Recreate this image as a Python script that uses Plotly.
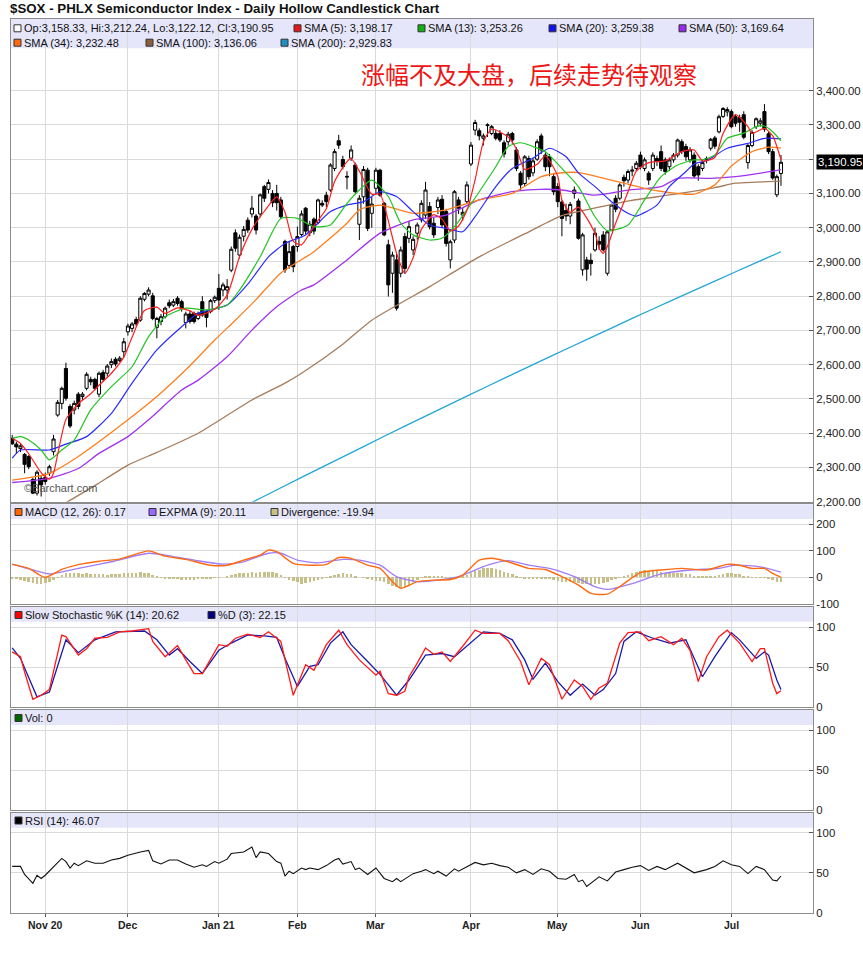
import plotly.graph_objects as go
import pandas as pd

# ---------------- calendar ----------------
holidays = {"2020-11-26", "2020-12-25", "2021-01-01", "2021-01-18",
            "2021-02-15", "2021-04-02", "2021-05-31", "2021-07-05"}
dates = [d for d in pd.bdate_range("2020-10-21", "2021-07-20")
         if d.strftime("%Y-%m-%d") not in holidays]
day = list(range(len(dates)))
month_labels = ["Nov 20", "Dec", "Jan 21", "Feb", "Mar", "Apr", "May", "Jun", "Jul"]
month_idx = []
_prev = None
for _i, _d in enumerate(dates):
    _k = (_d.year, _d.month)
    if _k != _prev:
        if _prev is not None:
            month_idx.append(_i)
        _prev = _k

# ---------------- OHLC ----------------
opens = [2385,2368,2355,2338,2332,2265,2225,2268,2271,2283,
         2346,2453,2487,2589,2478,2468,2514,2507,2531,2557,
         2557,2514,2577,2575,2600,2616,2612,2638,2696,2706,
         2732,2730,2791,2806,2801,2709,2726,2740,2781,2774,
         2794,2784,2723,2748,2750,2735,2784,2755,2755,2787,
         2823,2818,2818,2876,2985,2920,2975,3022,3040,3034,
         3040,3120,3112,3100,3100,3081,2960,2890,2945,2945,
         2980,3057,2985,3025,3015,3071,3095,3110,3173,3254,
         3199,3150,3203,3183,3010,3090,3168,3042,3115,3168,
         3071,2950,2867,2906,2867,2974,2969,2935,2984,3023,
         3037,3062,3013,3059,3083,3047,2906,2964,3081,3037,
         3076,3186,3285,3283,3261,3298,3275,3275,3275,3248,
         3251,3275,3227,3159,3129,3202,3160,3200,3268,3212,
         3207,3149,3120,3075,3050,3034,3100,3078,2877,2906,
         2905,2935,2960,2979,2867,2993,3086,3086,3147,3139,
         3165,3173,3212,3173,3159,3173,3202,3222,3198,3178,
         3198,3212,3251,3237,3198,3212,3178,3173,3196,3232,
         3262,3280,3325,3338,3339,3324,3322,3330,3190,3240,
         3295,3305,3339,3274,3222,3096,3158.33]
highs = [2395,2375,2368,2342,2336,2270,2292,2276,2285,2308,
         2395,2497,2536,2606,2485,2495,2520,2520,2578,2565,
         2562,2580,2585,2602,2618,2622,2625,2678,2720,2725,
         2740,2800,2812,2826,2810,2740,2748,2770,2790,2792,
         2800,2790,2755,2758,2755,2755,2800,2760,2792,2802,
         2865,2840,2850,2945,2995,2980,3005,3030,3093,3040,
         3100,3125,3141,3110,3125,3090,2965,2960,2950,3003,
         3050,3060,3020,3030,3085,3080,3105,3188,3230,3271,
         3210,3165,3240,3190,3095,3180,3175,3090,3175,3172,
         3075,2965,2930,2925,2945,2985,3020,2975,3015,3080,
         3134,3075,3030,3090,3095,3055,2965,3110,3090,3060,
         3135,3250,3315,3290,3275,3305,3300,3285,3285,3255,
         3280,3280,3235,3165,3212,3210,3205,3258,3275,3220,
         3215,3160,3130,3080,3070,3075,3120,3085,2985,2915,
         2925,3000,2975,2990,2992,3070,3095,3130,3155,3170,
         3180,3195,3222,3205,3165,3220,3210,3240,3205,3205,
         3218,3260,3258,3245,3235,3220,3185,3198,3208,3262,
         3268,3330,3352,3352,3345,3330,3330,3340,3245,3285,
         3322,3320,3361,3280,3230,3155,3212.24]
lows = [2366,2340,2345,2283,2295,2222,2218,2215,2250,2275,
        2335,2448,2470,2495,2415,2455,2470,2495,2525,2540,
        2525,2505,2550,2565,2590,2595,2608,2620,2685,2695,
        2712,2725,2785,2800,2730,2677,2715,2735,2765,2768,
        2772,2755,2706,2720,2720,2730,2740,2709,2750,2780,
        2760,2800,2790,2870,2930,2910,2960,2985,3030,2980,
        3030,3075,3100,3060,3050,3025,2868,2880,2870,2930,
        2975,2980,2975,2980,3010,3060,3060,3105,3165,3230,
        3170,3112,3195,3100,2964,3070,2990,3000,3100,3090,
        2975,2799,2810,2758,2855,2865,2955,2920,2965,3015,
        3025,2995,2970,3040,3000,2945,2881,2955,3040,3020,
        3070,3180,3270,3255,3240,3265,3270,3255,3250,3205,
        3240,3245,3165,3110,3120,3140,3150,3195,3215,3165,
        3150,3095,3060,2975,3020,3010,3085,2965,2860,2845,
        2860,2930,2935,2930,2860,2990,3045,3080,3120,3130,
        3150,3165,3170,3165,3125,3165,3180,3165,3155,3165,
        3190,3205,3215,3195,3190,3145,3137,3165,3188,3225,
        3230,3275,3320,3325,3290,3295,3280,3258,3172,3235,
        3288,3295,3280,3215,3140,3089,3122.12]
closes = [2369,2360,2363,2309,2302,2225,2286,2249,2259,2302,
          2383,2490,2531,2502,2421,2487,2478,2514,2572,2550,
          2531,2575,2557,2596,2609,2602,2619,2667,2713,2719,
          2719,2794,2808,2818,2735,2735,2740,2765,2772,2784,
          2779,2765,2748,2726,2726,2750,2745,2738,2787,2797,
          2789,2833,2828,2937,2940,2972,2995,2993,3057,2993,
          3096,3086,3132,3073,3073,3032,2877,2930,2886,2974,
          3040,2990,3010,2990,3081,3066,3076,3183,3222,3241,
          3178,3148,3227,3105,3086,3170,2998,3069,3168,3095,
          2979,2833,2920,2765,2935,2881,3003,2966,3008,3071,
          3110,3003,2979,3081,3008,2954,2959,3105,3057,3045,
          3125,3241,3307,3268,3268,3300,3295,3261,3256,3215,
          3273,3256,3173,3125,3207,3149,3195,3251,3227,3178,
          3178,3105,3076,3027,3034,3068,3110,2969,2979,2879,
          2895,2984,2952,2935,2988,3066,3054,3125,3137,3164,
          3168,3188,3178,3198,3139,3212,3193,3173,3164,3198,
          3212,3256,3222,3207,3227,3151,3154,3190,3202,3258,
          3238,3324,3348,3345,3295,3305,3308,3264,3240,3278,
          3318,3312,3288,3222,3145,3149,3190.95]

# ---------------- moving averages ----------------
sma5_day = [0,2,4,7,9,10,11,13,16,19,21,24,27,29,32,35,37,40,43,45,49,52,55,58,61,64,66,68,70,73,
            76,78,81,82,84,87,89,91,93,95,97,99,102,104,106,108,110,112,114,116,120,122,124,127,129,
            132,133,135,137,141,142,143,144,146,149,151,154,158,162,165,167,170,172,175,178,179,182,184,186]
sma5_val = [2385,2370,2340,2285,2266,2283,2338,2440,2486,2515,2540,2575,2622,2680,2758,2768,2750,2766,2757,2744,
            2762,2803,2915,2995,3048,3090,3045,2960,2950,3005,3055,3135,3193,3202,3165,3098,3098,3020,2925,2867,
            2912,2995,3038,3025,2990,3005,3050,3140,3250,3288,3265,3230,3170,3185,3210,3150,3081,3045,3060,2984,
            2940,2925,2945,3013,3105,3165,3190,3195,3222,3227,3195,3205,3275,3330,3295,3275,3290,3268,3198.17]
sma13_day = [0,2,4,7,9,12,15,19,24,29,33,37,42,47,52,55,60,65,69,73,77,81,84,87,91,94,97,101,104,107,
             110,113,117,120,123,126,129,133,137,141,144,149,153,157,161,165,167,170,173,177,180,182,184,186]
sma13_val = [2385,2390,2380,2351,2322,2351,2380,2468,2536,2594,2682,2740,2765,2760,2774,2818,2915,3027,3027,3003,
             3008,3071,3110,3139,3091,3013,2979,2964,2969,3003,3052,3105,3178,3237,3248,3237,3222,3173,3120,3032,
             2991,3008,3081,3149,3183,3198,3198,3212,3261,3276,3295,3297,3280,3253.26]
sma20_day = [0,2,9,13,18,24,29,35,41,45,52,57,62,66,71,77,81,85,89,93,97,101,105,109,112,117,121,126,130,134,
             137,141,145,149,151,156,159,163,165,168,173,178,182,186]
sma20_val = [2327,2351,2351,2368,2390,2458,2546,2643,2711,2750,2774,2835,2915,2954,2979,3047,3066,3076,3105,3091,
             3047,3008,2998,2988,3032,3120,3173,3203,3232,3207,3160,3120,3076,3042,3034,3066,3120,3164,3186,3196,
             3232,3246,3261,3259.38]
sma34_day = [0,9,16,28,35,42,49,54,59,65,73,81,84,89,97,105,113,121,128,132,137,145,153,161,165,170,174,179,183,186]
sma34_val = [2263,2283,2332,2439,2507,2585,2672,2730,2790,2868,2930,3013,3052,3066,3042,3052,3081,3100,3149,3159,
             3161,3139,3115,3100,3098,3125,3180,3222,3235,3232.48]
sma50_day = [0,9,16,21,28,33,41,45,52,58,64,70,73,81,89,97,105,113,121,128,133,141,149,157,161,169,175,181,186]
sma50_val = [2256,2268,2297,2341,2390,2439,2526,2555,2623,2701,2769,2818,2833,2906,2984,3023,3037,3081,3105,3112,
             3110,3095,3110,3120,3144,3144,3149,3159,3169.64]
sma100_day = [12,20,28,35,45,58,66,70,80,87,101,113,125,133,140,150,160,170,175,180,186]
sma100_val = [2190,2247,2307,2344,2400,2497,2546,2575,2660,2730,2828,2915,2988,3035,3055,3080,3097,3117,3130,3133,3136.06]
sma200_day = [57,60,70,80,90,100,110,120,130,140,150,160,170,180,186]
sma200_val = [2192,2210,2271,2331,2391,2450,2508,2566,2623,2679,2735,2790,2844,2898,2929.83]

# ---------------- MACD ----------------
macd_day = [0,4,8,12,16,21,26,28,33,37,42,48,52,56,60,62,64,68,72,76,79,82,86,89,92,94,98,102,106,109,
            113,116,120,125,129,133,137,140,144,148,152,157,162,168,173,176,179,182,184,186]
macd_val = [49,34,0,30,48,61,69,78,100,80,68,46,46,65,84,103,97,53,46,49,75,72,46,34,-16,-41,-16,-10,-8,9,
            65,72,59,34,30,3,-29,-60,-63,-23,18,28,34,28,49,46,34,34,15,0.17]
signal_day = [0,5,9,16,24,33,37,44,51,56,62,65,69,74,80,84,89,93,98,103,108,115,120,125,130,136,141,144,150,157,
              164,171,175,181,186]
signal_val = [50,28,13,34,59,91,84,65,50,59,91,91,65,55,68,65,46,3,-16,-10,3,46,63,46,34,3,-35,-45,-23,13,
              28,34,46,40,20.11]
divergence = [-5,-7,-10,-15,-20,-23,-25,-25,-22,-18,-10,-2,
              8,14,17,16,14,13,14,12,10,11,10,9,
              10,11,12,14,15,16,17,18,17,14,8,3,
              -1,-4,-6,-7,-8,-9,-10,-10,-9,-8,-7,-7,
              -5,-3,-1,0,3,8,12,14,15,16,18,17,
              18,20,21,18,14,8,-3,-10,-16,-20,-24,-22,
              -19,-16,-10,-6,-2,4,9,13,14,12,11,6,
              0,-2,-8,-12,-14,-16,-20,-27,-32,-38,-40,-38,
              -30,-20,-10,-2,5,6,4,3,2,-1,-4,-2,
              1,4,8,15,22,28,33,35,33,30,26,20,
              16,12,6,-1,-6,-8,-8,-6,-5,-6,-8,-11,
              -14,-17,-19,-19,-18,-22,-24,-27,-28,-26,-24,-22,
              -18,-12,-7,-2,3,8,14,20,24,25,24,25,
              23,20,17,15,14,15,14,12,10,6,3,2,
              1,2,4,8,12,14,14,12,10,6,2,-1,
              -1,-2,-3,-6,-12,-17,-19.94]

# ---------------- Slow stochastic ----------------
k_day = [0,2,3,5,7,9,12,13,16,18,20,23,26,29,33,34,37,40,42,44,46,50,52,54,57,60,62,65,68,71,
         73,76,79,81,84,88,89,91,93,95,96,98,100,102,104,106,109,112,114,118,120,123,125,128,130,133,136,138,140,142,
         144,147,149,152,154,157,160,162,164,166,168,171,173,176,179,181,182,183,184,185,186]
k_val = [69,63,44,10,15,22,90,88,65,73,86,87,94,95,98,82,63,77,59,42,42,78,76,86,91,87,94,82,15,53,
         46,78,96,78,59,40,45,17,15,20,38,55,74,66,69,57,76,96,92,92,83,57,28,61,53,10,34,26,10,24,
         30,80,93,94,83,88,78,86,71,32,63,88,96,80,57,73,73,51,30,17,20.62]
d_day = [0,2,6,9,13,16,20,25,32,35,38,40,43,46,50,53,57,61,64,66,69,72,74,77,80,82,86,89,93,96,
         100,104,107,110,114,118,121,124,126,129,132,135,138,141,143,146,148,151,155,159,163,165,167,170,174,176,180,182,183,185,186]
d_val = [74,61,13,19,84,68,84,94,95,84,65,73,57,42,71,80,90,89,87,61,26,51,53,80,94,78,57,41,15,34,
         65,67,63,76,94,92,84,59,35,55,32,15,29,15,22,42,82,94,86,80,84,61,38,63,93,84,61,69,65,34,22.15]

# ---------------- RSI ----------------
rsi_day = [0,2,3,5,6,7,8,10,12,13,14,15,16,18,20,22,24,26,28,31,33,34,36,38,40,42,44,46,47,49,
           50,52,53,56,58,59,60,62,64,65,66,67,68,70,71,72,74,76,78,79,80,82,83,84,86,88,90,92,93,94,
           96,97,99,100,102,103,105,107,108,110,112,114,116,118,120,122,124,126,128,130,132,134,136,137,138,139,142,144,146,148,
           150,152,154,156,158,161,163,165,168,170,172,174,176,178,180,182,184,185,186]
rsi_val = [58,58,48,37,47,43,47,58,68,64,56,62,59,65,62,62,66,68,72,76,78,65,61,66,66,61,57,60,58,64,
           62,67,74,76,82,69,76,74,64,62,46,52,49,56,54,56,54,59,66,68,61,64,54,56,48,56,43,39,43,39,
           45,49,52,54,49,52,46,55,52,57,63,60,62,59,57,50,54,48,55,52,43,42,48,39,41,33,45,40,51,54,
           57,59,53,58,54,62,56,50,54,58,65,60,58,49,58,54,41,40,46.07]

price_ticks = list(range(2200, 3401, 100))
price_ticktext = ["" if v == 3200 else "{:,.2f}".format(v) for v in price_ticks]
last_close = closes[-1]

# ---------------- geometry helpers (pixel -> paper) ----------------
W, H = 863, 954
ML, MR, MT, MB = 11, 50, 19, 41
PW, PH = W - ML - MR, H - MT - MB
def xp(px):
    return (px - ML) / PW
def yp(py):
    return (H - MB - py) / PH

panels = [  # top px, bottom px, band bottom px
    (19.0, 501.7, 48.3),
    (504.3, 604.0, 519.0),
    (607.0, 707.3, 621.7),
    (710.0, 810.0, 725.0),
    (813.0, 913.0, 827.7),
]
yranges = [[2200, 3609.3], [-100, 275.3], [0, 124.9], [0, 125], [0, 124.5]]
ytickvals = [price_ticks, [-100, 0, 100, 200], [0, 50, 100], [0, 50, 100], [0, 50, 100]]
yticktext = [price_ticktext, ["-100", "0", "100", "200"], ["0", "50", "100"], ["0", "50", "100"], ["0", "50", "100"]]

XR = [-0.29, 193.75]
GRID = "#DADADA"
BORDER = "#8C8C8C"
FONT = "Liberation Sans, Arial, sans-serif"

fig = go.Figure()

fig.add_trace(go.Candlestick(
    x=day, open=opens, high=highs, low=lows, close=closes,
    increasing=dict(line=dict(color="#000000", width=1), fillcolor="#FFFFFF"),
    decreasing=dict(line=dict(color="#000000", width=1), fillcolor="#000000"),
    whiskerwidth=0, xaxis="x", yaxis="y", showlegend=False, hoverinfo="skip"))

def line(xs, ys, color, width, axis_n, shape="spline"):
    xa = "x" if axis_n == 1 else "x%d" % axis_n
    ya = "y" if axis_n == 1 else "y%d" % axis_n
    fig.add_trace(go.Scatter(x=xs, y=ys, mode="lines",
                             line=dict(color=color, width=width, shape=shape, smoothing=0.6),
                             xaxis=xa, yaxis=ya, showlegend=False, hoverinfo="skip"))

C_SMA5, C_SMA13, C_SMA20, C_SMA50 = "#FF2020", "#22C422", "#2B2BFF", "#A032F0"
C_SMA34, C_SMA100, C_SMA200 = "#FF7F1E", "#A67C5B", "#22A6D6"
line(sma200_day, sma200_val, C_SMA200, 1.3, 1)
line(sma100_day, sma100_val, C_SMA100, 1.3, 1)
line(sma50_day, sma50_val, C_SMA50, 1.3, 1)
line(sma34_day, sma34_val, C_SMA34, 1.3, 1)
line(sma20_day, sma20_val, C_SMA20, 1.2, 1)
line(sma13_day, sma13_val, C_SMA13, 1.2, 1)
line(sma5_day, sma5_val, C_SMA5, 1.2, 1)

C_DIV, C_MACD, C_SIG = "#C6C088", "#FF6A10", "#A07CF5"
fig.add_trace(go.Bar(x=day, y=divergence, marker=dict(color=C_DIV, line=dict(width=0)),
                     width=0.62, xaxis="x2", yaxis="y2", showlegend=False, hoverinfo="skip"))
line(signal_day, signal_val, C_SIG, 1.3, 2)
line(macd_day, macd_val, C_MACD, 1.4, 2)

C_K, C_D = "#FF1A1A", "#1A1AA8"
line(d_day, d_val, C_D, 1.3, 3, "linear")
line(k_day, k_val, C_K, 1.3, 3, "linear")

# volume panel is empty (Vol: 0) - placeholder trace so the panel's axes are drawn
fig.add_trace(go.Scatter(x=[day[0]], y=[None], mode="markers", xaxis="x4", yaxis="y4",
                         showlegend=False, hoverinfo="skip"))

line(rsi_day, rsi_val, "#111111", 1.1, 5, "linear")

layout = dict(
    width=W, height=H, autosize=False, margin=dict(l=ML, r=MR, t=MT, b=MB, autoexpand=False),
    paper_bgcolor="#FFFFFF", plot_bgcolor="#FFFFFF",
    font=dict(family=FONT, size=11, color="#222222"),
    boxgap=0.25, boxgroupgap=0, bargap=0,
    showlegend=False, hovermode=False,
)
for n in range(1, 6):
    top, bot, band = panels[n - 1]
    xk = "xaxis" if n == 1 else "xaxis%d" % n
    yk = "yaxis" if n == 1 else "yaxis%d" % n
    ya = "y" if n == 1 else "y%d" % n
    xa = "x" if n == 1 else "x%d" % n
    layout[xk] = dict(
        domain=[0, 1], anchor=ya, range=XR, tickmode="array", tickvals=month_idx,
        showticklabels=False, ticks="outside" if n == 5 else "", ticklen=3, tickcolor="#555555",
        showgrid=True, gridcolor=GRID, gridwidth=1, zeroline=False,
        showline=True, mirror=True, linecolor=BORDER, linewidth=1, automargin=False,
        rangeslider=dict(visible=False), fixedrange=True)
    layout[yk] = dict(
        domain=[yp(bot), yp(top)], anchor=xa, side="right", range=yranges[n - 1],
        tickmode="array", tickvals=ytickvals[n - 1], ticktext=yticktext[n - 1],
        ticks="inside", ticklen=4, tickcolor="#555555", tickfont=dict(size=11.4, color="#222222"),
        showgrid=True, gridcolor=GRID, gridwidth=1, zeroline=False, automargin=False,
        showline=True, mirror=True, linecolor=BORDER, linewidth=1, fixedrange=True)
fig.update_layout(**layout)

shapes = []
annotations = []
BAND = "#E6E6FA"
for top, bot, band in panels:
    shapes.append(dict(type="rect", xref="paper", yref="paper", x0=0, x1=1,
                       y0=yp(band), y1=yp(top), fillcolor=BAND, line=dict(width=0), layer="below"))

def legend_item(sx, cy, color, text):
    shapes.append(dict(type="rect", xref="paper", yref="paper",
                       x0=xp(sx), x1=xp(sx + 7), y0=yp(cy + 3.5), y1=yp(cy - 3.5),
                       fillcolor=color, line=dict(color="#333333", width=1), layer="above"))
    annotations.append(dict(xref="paper", yref="paper", x=xp(sx + 8), y=yp(cy), text=text,
                            xanchor="left", yanchor="middle", showarrow=False,
                            font=dict(size=11, color="#111111", family=FONT)))

legend_item(14, 28.3, "#FFFFFF", "Op:3,158.33, Hi:3,212.24, Lo:3,122.12, Cl:3,190.95")
legend_item(294, 28.3, "#E81818", "SMA (5): 3,198.17")
legend_item(418, 28.3, "#10B010", "SMA (13): 3,253.26")
legend_item(549, 28.3, "#1010F0", "SMA (20): 3,259.38")
legend_item(679, 28.3, "#9A28EE", "SMA (50): 3,169.64")
legend_item(14, 42.7, "#FF6A10", "SMA (34): 3,232.48")
legend_item(146, 42.7, "#8B5E3C", "SMA (100): 3,136.06")
legend_item(281, 42.7, "#1E8FC0", "SMA (200): 2,929.83")
legend_item(15, 512, "#FF6600", "MACD (12, 26): 0.17")
legend_item(149, 512, "#9966FF", "EXPMA (9): 20.11")
legend_item(271, 512, C_DIV, "Divergence: -19.94")
legend_item(15, 615, "#FF0000", "Slow Stochastic %K (14): 20.62")
legend_item(208, 615, "#000080", "%D (3): 22.15")
legend_item(15, 718, "#006400", "Vol: 0")
legend_item(15, 820.5, "#000000", "RSI (14): 46.07")

# month labels under the bottom panel
for mi, lab in zip(month_idx, month_labels):
    annotations.append(dict(xref="x5", yref="paper", x=mi, y=yp(924.5), text="<b>%s</b>" % lab,
                            xanchor="center", yanchor="middle", showarrow=False,
                            font=dict(size=10.5, color="#222222", family=FONT)))

annotations.append(dict(xref="paper", yref="paper", x=xp(8), y=yp(8),
                        text="<b>$SOX - PHLX Semiconductor Index - Daily Hollow Candlestick Chart</b>",
                        xanchor="left", yanchor="middle", showarrow=False,
                        font=dict(size=13.3, color="#111111", family=FONT)))
annotations.append(dict(xref="paper", yref="paper", x=xp(359), y=yp(73),
                        text="涨幅不及大盘，后续走势待观察", xanchor="left", yanchor="middle",
                        showarrow=False, font=dict(size=24, color="#EE1515", family="Noto Sans CJK SC")))
annotations.append(dict(xref="paper", yref="paper", x=xp(22), y=yp(488), text="©Barchart.com",
                        xanchor="left", yanchor="middle", showarrow=False,
                        font=dict(size=11, color="#555555", family=FONT)))
annotations.append(dict(xref="paper", yref="y", x=xp(815.5), y=last_close, text="3,190.95",
                        xanchor="left", yanchor="middle", showarrow=False, bgcolor="#000000",
                        borderpad=1, font=dict(size=11.4, color="#FFFFFF", family=FONT)))

fig.update_layout(shapes=shapes, annotations=annotations)
fig.write_html("out.html", config={"displayModeBar": False, "responsive": False},
               post_script="document.body.style.margin='0px';document.body.style.overflow='hidden';")
